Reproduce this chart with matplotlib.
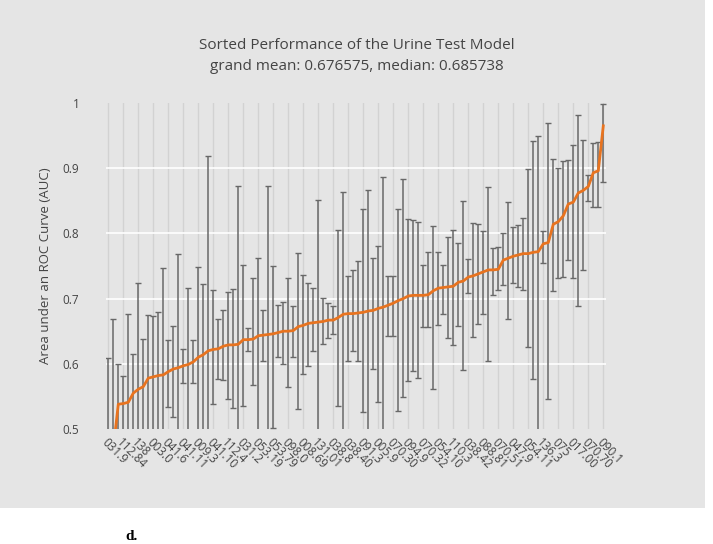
import matplotlib
matplotlib.use("Agg")
import matplotlib.pyplot as plt
from matplotlib.patches import Rectangle
import numpy as np

plt.rcParams['font.family'] = ['Open Sans', 'DejaVu Sans']

# sorted mean AUC per model (orange line)
means = [0.430, 0.470, 0.538, 0.539, 0.541, 0.555, 0.561, 0.565, 0.578, 0.580,
         0.582, 0.583, 0.588, 0.592, 0.594, 0.597, 0.599, 0.603, 0.610, 0.614,
         0.620, 0.622, 0.623, 0.627, 0.629, 0.629, 0.630, 0.637, 0.637, 0.638,
         0.643, 0.644, 0.645, 0.646, 0.648, 0.650, 0.650, 0.651, 0.657, 0.659,
         0.662, 0.663, 0.664, 0.665, 0.667, 0.667, 0.671, 0.676, 0.677, 0.677,
         0.678, 0.679, 0.681, 0.682, 0.685, 0.687, 0.690, 0.693, 0.697, 0.700,
         0.704, 0.705, 0.705, 0.705, 0.706, 0.712, 0.716, 0.717, 0.718, 0.719,
         0.725, 0.727, 0.733, 0.735, 0.738, 0.741, 0.744, 0.744, 0.745, 0.759,
         0.762, 0.765, 0.767, 0.769, 0.769, 0.771, 0.772, 0.784, 0.786, 0.814,
         0.818, 0.827, 0.845, 0.848, 0.862, 0.866, 0.872, 0.893, 0.896, 0.965]

# top of error bar
upper = [0.609, 0.668, 0.600, 0.581, 0.676, 0.615, 0.724, 0.638, 0.675, 0.673,
         0.679, 0.747, 0.637, 0.658, 0.768, 0.622, 0.717, 0.636, 0.749, 0.723,
         0.918, 0.713, 0.669, 0.682, 0.710, 0.714, 0.873, 0.752, 0.655, 0.731,
         0.762, 0.682, 0.873, 0.750, 0.690, 0.695, 0.731, 0.688, 0.770, 0.736,
         0.724, 0.716, 0.851, 0.701, 0.694, 0.688, 0.805, 0.864, 0.735, 0.744,
         0.758, 0.837, 0.867, 0.763, 0.780, 0.886, 0.735, 0.735, 0.837, 0.883,
         0.822, 0.820, 0.817, 0.751, 0.771, 0.811, 0.771, 0.751, 0.795, 0.805,
         0.786, 0.849, 0.760, 0.816, 0.815, 0.803, 0.871, 0.778, 0.779, 0.800,
         0.848, 0.810, 0.813, 0.824, 0.899, 0.942, 0.949, 0.804, 0.970, 0.914,
         0.900, 0.911, 0.912, 0.936, 0.981, 0.944, 0.890, 0.938, 0.940, 0.998]

# bottom of error bar
lower = [0.250, 0.270, 0.480, 0.497, 0.406, 0.495, 0.398, 0.492, 0.481, 0.487,
         0.485, 0.419, 0.533, 0.519, 0.420, 0.571, 0.481, 0.570, 0.471, 0.495,
         0.322, 0.539, 0.576, 0.575, 0.546, 0.532, 0.387, 0.535, 0.619, 0.567,
         0.490, 0.605, 0.417, 0.502, 0.610, 0.600, 0.565, 0.610, 0.530, 0.584,
         0.596, 0.619, 0.477, 0.631, 0.639, 0.645, 0.535, 0.488, 0.604, 0.619,
         0.604, 0.526, 0.495, 0.592, 0.541, 0.488, 0.643, 0.643, 0.527, 0.549,
         0.574, 0.589, 0.578, 0.656, 0.656, 0.561, 0.659, 0.677, 0.639, 0.629,
         0.658, 0.590, 0.709, 0.641, 0.661, 0.676, 0.605, 0.705, 0.713, 0.721,
         0.669, 0.724, 0.718, 0.713, 0.626, 0.577, 0.490, 0.755, 0.546, 0.712,
         0.732, 0.733, 0.759, 0.732, 0.688, 0.744, 0.850, 0.841, 0.841, 0.879]

# every third model gets a label on the axis
tick_labels = ['031.9', '112.84', '138', '003.0', '041.6', '041.11', '009.3',
               '041.10', '112.4', '031.2', '053.19', '053.79', '098.0', '008.69',
               '131.01', '038.8', '038.40', '091.3', '005.9', '070.30', '094.9',
               '070.32', '054.10', '110.3', '038.42', '088.81', '070.51', '047.9',
               '054.11', '136.3', '075', '017.00', '070.70', '090.1']

y_ticks = [0.5, 0.6, 0.7, 0.8, 0.9, 1.0]
y_tick_labels = ['0.5', '0.6', '0.7', '0.8', '0.9', '1']

title = ("Sorted Performance of the Urine Test Model\n"
         "grand mean: 0.676575, median: 0.685738")

BG = '#e5e5e5'
TXT = '#444444'

W, H = 713, 544
fig = plt.figure(figsize=(W / 100, H / 100), dpi=100)
fig.patch.set_facecolor('white')
fig.patches.append(Rectangle((0, 1 - 508 / H), 705 / W, 508 / H,
                             transform=fig.transFigure, facecolor=BG,
                             edgecolor='none', zorder=-5))

ax = fig.add_axes([105.8 / W, 1 - 429 / H, 500 / W, 326 / H])
ax.set_facecolor(BG)

x = np.arange(len(means))
m = np.array(means)
yerr = [m - np.array(lower), np.array(upper) - m]

ax.errorbar(x, m, yerr=yerr, fmt='none', ecolor='#686868', elinewidth=1.1,
            capsize=2.5, capthick=1.0, zorder=3)
ax.plot(x, m, color='#e8731f', lw=2, zorder=4, solid_joinstyle='round')

ax.set_xlim(-0.5, len(means) - 0.5)
ax.set_ylim(0.5, 1.0)

tick_pos = x[::3]
ax.set_xticks(tick_pos)
ax.set_xticklabels(tick_labels, rotation=-45, ha='left', va='top',
                   rotation_mode='anchor', fontsize=8.5, color=TXT)
ax.set_yticks(y_ticks)
ax.set_yticklabels(y_tick_labels, fontsize=8.5, color=TXT)
ax.tick_params(length=0)
ax.tick_params(axis='x', pad=5)
ax.tick_params(axis='y', pad=19)

ax.grid(axis='x', color='#d2d2d2', lw=1, zorder=1)
ax.grid(axis='y', color='white', lw=1.2, zorder=1)
ygl = ax.get_ygridlines()
ygl[0].set_visible(False)
ygl[-1].set_visible(False)
ax.set_axisbelow(True)

for s in ax.spines.values():
    s.set_visible(False)

ax.set_ylabel('Area under an ROC Curve (AUC)', fontsize=9.5, color=TXT,
              labelpad=8)

fig.text(357 / W, 1 - 56 / H, title, ha='center', va='center',
         fontsize=11, color=TXT, linespacing=1.55)

fig.text(131 / W, 1 - 537 / H, 'd.', ha='center', va='center',
         fontsize=11, fontweight='bold', family='Liberation Serif',
         color='black')

fig.savefig('out.png', dpi=100)
